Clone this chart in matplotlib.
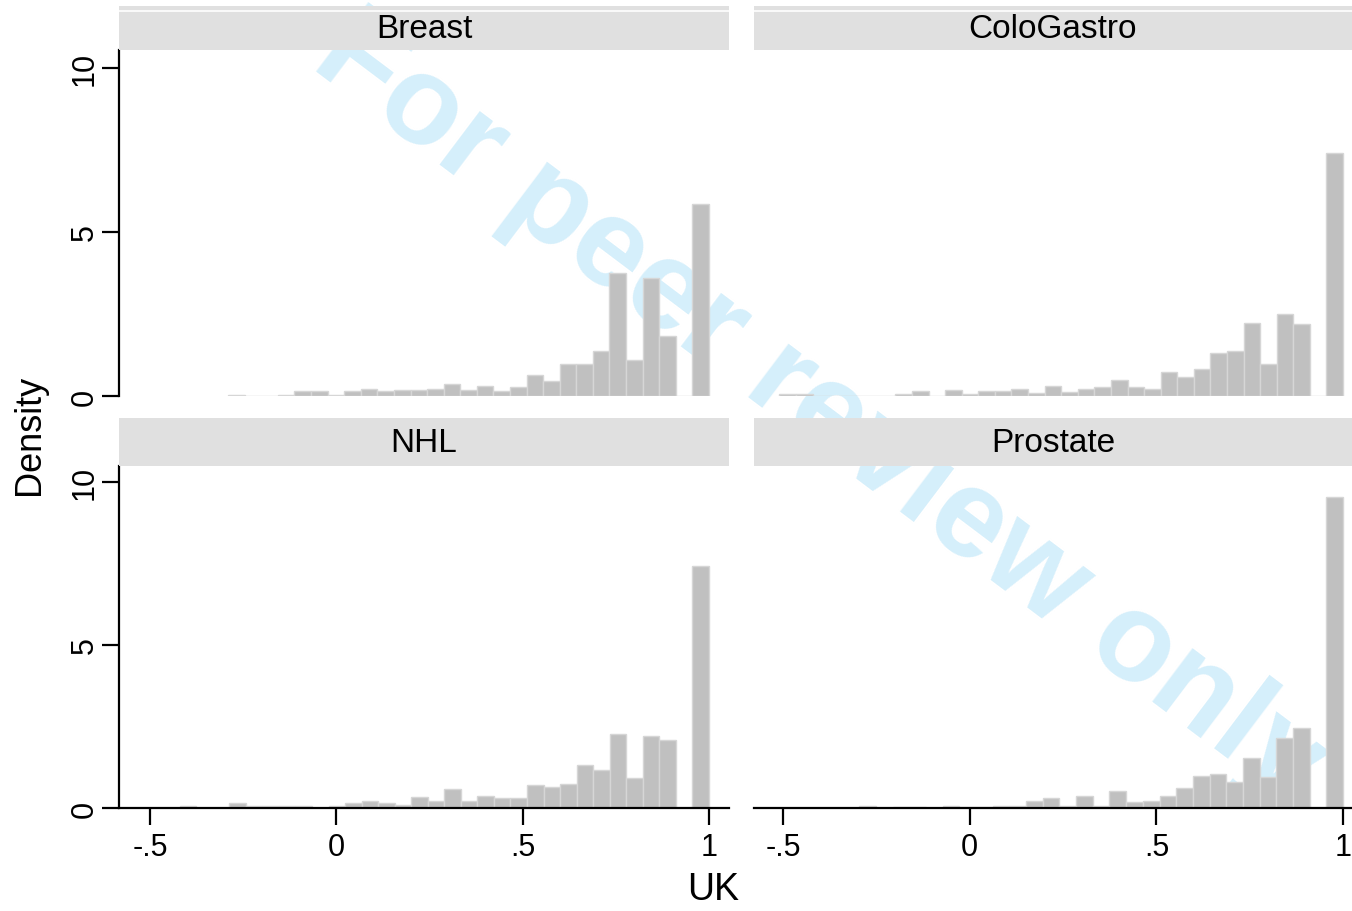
import numpy as np
import matplotlib
matplotlib.use("Agg")
import matplotlib.pyplot as plt

plt.rcParams['font.family'] = ['Liberation Sans', 'DejaVu Sans']

# histogram data: first bin edge, last edge is 1 for every panel
panels = ["Breast", "ColoGastro", "NHL", "Prostate"]

breast_start = -0.29
breast = [0.04, 0, 0, 0.03, 0.15, 0.15, 0.03, 0.15, 0.22, 0.15,
          0.18, 0.18, 0.22, 0.38, 0.18, 0.31, 0.15, 0.28, 0.65, 0.46,
          0.98, 0.98, 1.38, 3.76, 1.10, 3.61, 1.84, 0, 5.85]

colo_start = -0.51
colo = [0.06, 0.06, 0, 0, 0, 0, 0, 0.06, 0.15, 0,
        0.17, 0.06, 0.15, 0.16, 0.2, 0.1, 0.31, 0.13, 0.2, 0.27,
        0.49, 0.26, 0.2, 0.73, 0.59, 0.82, 1.31, 1.36, 2.23, 0.97,
        2.51, 2.20, 0, 7.4]

nhl_start = -0.42
nhl = [0.06, 0, 0, 0.15, 0.05, 0.05, 0.05, 0.05, 0, 0.06,
       0.15, 0.21, 0.15, 0.09, 0.33, 0.2, 0.58, 0.2, 0.36, 0.32,
       0.32, 0.70, 0.63, 0.73, 1.32, 1.18, 2.26, 0.91, 2.22, 2.10,
       0, 7.43]

prostate_start = -0.296
prostate = [0.06, 0, 0.04, 0.04, 0, 0.06, 0.04, 0.04, 0.06, 0.06,
            0.2, 0.3, 0.07, 0.36, 0.07, 0.51, 0.19, 0.22, 0.38, 0.60,
            0.97, 1.04, 0.81, 1.52, 0.94, 2.14, 2.44, 0, 9.55]

starts = [breast_start, colo_start, nhl_start, prostate_start]
heights = [breast, colo, nhl, prostate]

xticks = [-0.5, 0, 0.5, 1]
xticklabels = ["-.5", "0", ".5", "1"]
yticks = [0, 5, 10]

W, H = 1352, 912


def box(x0, y0, x1, y1):
    return [x0 / W, 1 - y1 / H, (x1 - x0) / W, (y1 - y0) / H]


fig = plt.figure(figsize=(W / 100, H / 100), dpi=100)
fig.patch.set_facecolor('white')

# watermark behind everything
fig.text(820 / W, 1 - 410 / H, "For peer review only", fontsize=91, fontweight='bold',
         color='#d5effb', rotation=-37, ha='center', va='center',
         rotation_mode='anchor', zorder=-5)

axes_px = [(119, 51, 729, 397), (754, 51, 1352, 397),
           (119, 467, 729, 809), (754, 467, 1352, 809)]
strip_px = [(119, 7, 729, 51), (754, 7, 1352, 51),
            (119, 419, 729, 467), (754, 419, 1352, 467)]
xlims = [(-0.583, 1.054), (-0.578, 1.024), (-0.583, 1.054), (-0.578, 1.024)]
ylims = [(0, 10.55), (0, 10.55), (0, 10.49), (0, 10.49)]

for i, name in enumerate(panels):
    ax = fig.add_axes(box(*axes_px[i]))
    ax.set_facecolor('none')
    h = np.array(heights[i])
    edges = np.linspace(starts[i], 1.0, len(h) + 1)
    w = edges[1] - edges[0]
    ax.bar(edges[:-1], h, width=w, align='edge', color='#c0c0c0',
           edgecolor='#d6d6d6', linewidth=1.0)
    ax.set_xlim(*xlims[i])
    ax.set_ylim(*ylims[i])
    for s in ax.spines.values():
        s.set_visible(False)
    left_col = i % 2 == 0
    bottom_row = i >= 2
    if left_col:
        ax.spines['left'].set_visible(True)
        ax.spines['left'].set_linewidth(1.6)
        ax.set_yticks(yticks)
        ax.set_yticklabels([str(t) for t in yticks], rotation=90, va='center', fontsize=22)
        ax.tick_params(axis='y', length=12, width=1.6, pad=2)
    else:
        ax.set_yticks([])
    if bottom_row:
        ax.spines['bottom'].set_visible(True)
        ax.spines['bottom'].set_linewidth(1.6)
        ax.set_xticks(xticks)
        ax.set_xticklabels(xticklabels, fontsize=22)
        ax.tick_params(axis='x', length=12, width=1.6, pad=5)
    else:
        ax.set_xticks([])

    sax = fig.add_axes(box(*strip_px[i]))
    sax.set_facecolor('#e0e0e0')
    sax.set_xlim(0, 1)
    sax.set_ylim(0, 1)
    if not bottom_row:
        sax.axhline(0.88, color='white', linewidth=1.2)
    sax.set_xticks([])
    sax.set_yticks([])
    for s in sax.spines.values():
        s.set_visible(False)
    sax.text(0.5, 0.48, name, ha='center', va='center', fontsize=24,
             transform=sax.transAxes)

fig.text(30 / W, 1 - 435 / H, "Density", rotation=90, ha='center', va='center', fontsize=26)
fig.text(713 / W, 1 - 890 / H, "UK", ha='center', va='center', fontsize=27)

fig.savefig("out.png", dpi=100)
